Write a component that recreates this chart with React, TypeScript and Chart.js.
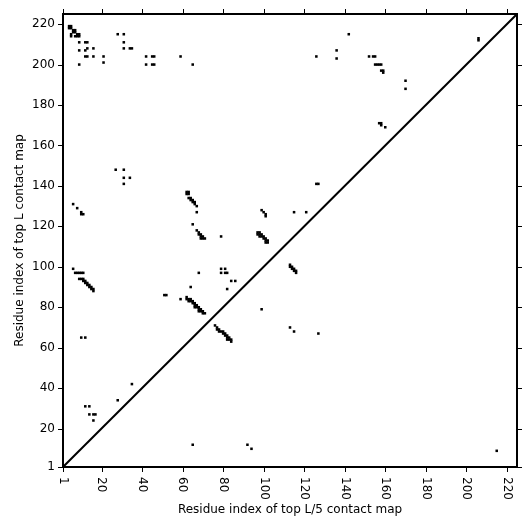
import React, { useEffect, useRef } from "react";
import { Chart, registerables } from "chart.js";

Chart.register(...registerables);

const AXIS_MIN = 1;
const AXIS_MAX = 225;
const xTickValues = [1, 20, 40, 60, 80, 100, 120, 140, 160, 180, 200, 220];
const yTickValues = [1, 20, 40, 60, 80, 100, 120, 140, 160, 180, 200, 220];
const xTitle = "Residue index of top L/5 contact map";
const yTitle = "Residue index of top L contact map";

// contacts above the diagonal
const upperContacts: [number, number][] = [
  [4, 219], [5, 219], [4, 218], [5, 218], [6, 217], [7, 217], [6, 216], [7, 216],
  [5, 215], [5, 214], [8, 215], [7, 214], [8, 214], [9, 214], [9, 215],
  [28, 215], [31, 215], [9, 211], [12, 211], [13, 211], [31, 211],
  [9, 207], [12, 207], [13, 208], [16, 208], [31, 208], [34, 208], [35, 208],
  [12, 204], [13, 204], [16, 204], [21, 204], [42, 204], [45, 204], [46, 204], [59, 204],
  [9, 200], [21, 201], [42, 200], [45, 200], [46, 200], [65, 200],
  [142, 215], [136, 207], [126, 204], [136, 203], [152, 204], [154, 204], [155, 204],
  [155, 200], [156, 200], [157, 200], [158, 200], [158, 197], [159, 197], [159, 196],
  [170, 192], [170, 188], [206, 212], [206, 213], [157, 171], [158, 171], [158, 170], [160, 169],
  [126, 141], [127, 141],
  [27, 148], [31, 148], [31, 144], [34, 144], [31, 141],
  [6, 131], [8, 129], [10, 126], [11, 126], [10, 127],
  [6, 99], [7, 97], [8, 97], [9, 97], [10, 97], [11, 97],
  [9, 94], [10, 94], [11, 94], [11, 93], [12, 93], [12, 92], [13, 92], [13, 91],
  [14, 91], [14, 90], [15, 90], [15, 89], [16, 89], [16, 88],
  [10, 65], [12, 65], [12, 31], [14, 31], [14, 27], [16, 27], [17, 27], [16, 24], [28, 34], [35, 42],
  [62, 137], [62, 136], [63, 137], [63, 136], [63, 134], [64, 134], [64, 133], [65, 133],
  [65, 132], [66, 132], [66, 131], [67, 130], [67, 127], [65, 121],
  [67, 118], [68, 117], [68, 116], [69, 116], [69, 115], [70, 115], [70, 114], [71, 114], [69, 114],
  [79, 115], [68, 97], [79, 99], [81, 99], [79, 97], [81, 97], [82, 97], [84, 93], [86, 93],
  [82, 89], [64, 90], [59, 84], [51, 86], [52, 86],
  [62, 85], [62, 84], [63, 84], [63, 83], [64, 84], [64, 83], [65, 83], [65, 82], [66, 82],
  [66, 81], [66, 80], [67, 81], [67, 80], [68, 80], [68, 79], [68, 78], [69, 79], [69, 78],
  [70, 78], [70, 77], [71, 77],
  [99, 128], [100, 127], [101, 126], [101, 125], [115, 127], [121, 127],
  [97, 117], [98, 117], [97, 116], [98, 116], [99, 116], [98, 115], [99, 115], [100, 115],
  [100, 114], [101, 114], [101, 113], [102, 113], [101, 112], [102, 112],
];

// contacts below the diagonal
const lowerContacts: [number, number][] = [
  [76, 71], [77, 70], [77, 69], [78, 69], [78, 68], [79, 68], [80, 68], [80, 67], [81, 67],
  [81, 66], [82, 66], [82, 65], [83, 65], [83, 64], [84, 64], [84, 63], [82, 64],
  [99, 79], [113, 70], [115, 68], [127, 67],
  [113, 101], [113, 100], [114, 100], [114, 99], [115, 99], [115, 98], [116, 98], [116, 97],
  [65, 12], [92, 12], [94, 10], [215, 9],
];

const FONT = "DejaVu Sans";

const framePlugin = {
  id: "frame",
  afterDraw(chart: any) {
    const { ctx, chartArea } = chart;
    const { left, right, top, bottom } = chartArea;
    const xs = chart.scales.x;
    const ys = chart.scales.y;
    ctx.save();
    ctx.strokeStyle = "#000";
    ctx.lineWidth = 2;
    ctx.strokeRect(left, top, right - left, bottom - top);
    ctx.lineWidth = 1;
    ctx.beginPath();
    xTickValues.forEach((v) => {
      const px = Math.round(xs.getPixelForValue(v)) + 0.5;
      ctx.moveTo(px, bottom);
      ctx.lineTo(px, bottom + 5);
      ctx.moveTo(px, top);
      ctx.lineTo(px, top - 5);
    });
    yTickValues.forEach((v) => {
      const py = Math.round(ys.getPixelForValue(v)) + 0.5;
      ctx.moveTo(left, py);
      ctx.lineTo(left - 5, py);
      ctx.moveTo(right, py);
      ctx.lineTo(right + 5, py);
    });
    ctx.stroke();
    ctx.fillStyle = "#000";
    ctx.font = `12px "${FONT}"`;
    xTickValues.forEach((v) => {
      const px = xs.getPixelForValue(v);
      ctx.save();
      ctx.translate(px, bottom + 10);
      ctx.rotate(Math.PI / 2);
      ctx.textAlign = "left";
      ctx.textBaseline = "middle";
      ctx.fillText(String(v), 0, 0);
      ctx.restore();
    });
    ctx.textAlign = "right";
    ctx.textBaseline = "middle";
    yTickValues.forEach((v) => {
      const py = ys.getPixelForValue(v);
      ctx.fillText(String(v), left - 8, py);
    });
    ctx.restore();
  },
};

export default function App() {
  const ref = useRef<HTMLCanvasElement | null>(null);
  useEffect(() => {
    if (!ref.current) return;
    const toPts = (arr: [number, number][]) => arr.map(([x, y]) => ({ x, y }));
    const chart = new Chart(ref.current, {
      type: "scatter",
      data: {
        datasets: [
          {
            type: "line",
            data: [
              { x: AXIS_MIN, y: AXIS_MIN },
              { x: AXIS_MAX, y: AXIS_MAX },
            ],
            borderColor: "#000",
            borderWidth: 2,
            pointRadius: 0,
            fill: false,
          } as any,
          {
            data: toPts(upperContacts),
            pointStyle: "rect",
            pointRadius: 1.8,
            borderWidth: 0,
            backgroundColor: "#000",
          },
          {
            data: toPts(lowerContacts),
            pointStyle: "rect",
            pointRadius: 1.8,
            borderWidth: 0,
            backgroundColor: "#000",
          },
        ],
      },
      options: {
        animation: false,
        responsive: false,
        events: [],
        layout: { padding: { top: 14, right: 14, left: 0, bottom: 0 } },
        plugins: { legend: { display: false }, tooltip: { enabled: false } },
        scales: {
          x: {
            type: "linear",
            min: AXIS_MIN,
            max: AXIS_MAX,
            grid: { display: false },
            border: { display: false },
            ticks: { display: false },
            title: {
              display: true,
              text: xTitle,
              color: "#000",
              font: { family: FONT, size: 12 },
              padding: { top: 0, bottom: 14 },
            },
            afterFit: (s: any) => {
              s.height = 64;
            },
          },
          y: {
            type: "linear",
            min: AXIS_MIN,
            max: AXIS_MAX,
            grid: { display: false },
            border: { display: false },
            ticks: { display: false },
            title: {
              display: true,
              text: yTitle,
              color: "#000",
              font: { family: FONT, size: 12 },
              padding: { top: 13, bottom: 0 },
            },
            afterFit: (s: any) => {
              s.width = 63;
            },
          },
        },
      },
      plugins: [framePlugin],
    });
    return () => chart.destroy();
  }, []);
  return (
    <div style={{ position: "fixed", left: 0, top: 0, width: 531, height: 531, background: "#fff" }}>
      <canvas ref={ref} width={531} height={531} />
    </div>
  );
}
